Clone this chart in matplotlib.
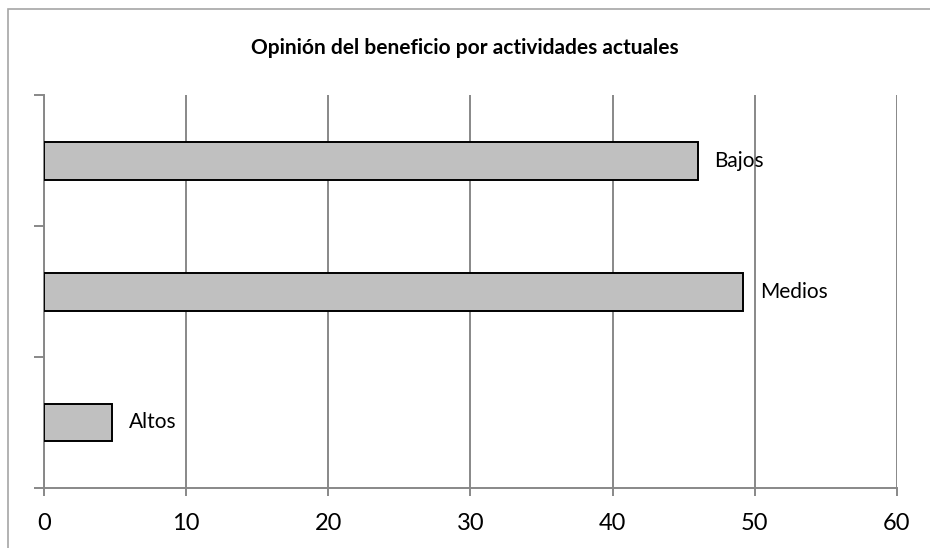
import matplotlib.pyplot as plt
from matplotlib.patches import Rectangle

# Answers per category (percent)
categorias = ["Altos", "Medios", "Bajos"]
valores = [4.8, 49.2, 46.0]
ticks_x = [0, 10, 20, 30, 40, 50, 60]

plt.rcParams['font.family'] = ['Lato', 'DejaVu Sans']

fig = plt.figure(figsize=(9.3, 5.48), dpi=100)
ax = fig.add_axes([0.0473, 0.1095, 0.9172, 0.7171])

# outer chart border (left and top edges visible)
fig.patches.append(Rectangle((8 / 930, -0.2), 1.5, 1.2 - 9 / 548,
                             transform=fig.transFigure, fill=False,
                             edgecolor='#a6a6a6', linewidth=1.2))

pos = list(range(len(categorias)))
ax.barh(pos, valores, height=0.29, color='#c0c0c0', edgecolor='black',
        linewidth=1.4, zorder=3)

for p, v, nombre in zip(pos, valores, categorias):
    ax.annotate(nombre, (v, p), xytext=(12, 0), textcoords='offset points',
                va='center', ha='left', fontsize=15, color='black', zorder=4)

ax.set_xlim(0, 60)
ax.set_ylim(-0.5, len(categorias) - 0.5)
ax.set_xticks(ticks_x)
ax.set_xticklabels([str(t) for t in ticks_x], fontsize=17)
ax.set_yticks([-0.5, 0.5, 1.5, 2.5])
ax.set_yticklabels([])
ax.tick_params(axis='x', direction='out', length=6, width=1.4,
               color='#888888', pad=12)
ax.tick_params(axis='y', direction='out', length=7, width=1.4,
               color='#888888')

ax.grid(axis='x', color='#888888', linewidth=1.4, zorder=0)
ax.set_axisbelow(True)
for s in ['top', 'right']:
    ax.spines[s].set_visible(False)
for s in ['left', 'bottom']:
    ax.spines[s].set_color('#888888')
    ax.spines[s].set_linewidth(1.4)

fig.text(0.5, 1 - 48 / 548, "Opinión del beneficio por actividades actuales",
         ha='center', va='center', fontsize=15, fontweight='bold')

fig.savefig("out.png", dpi=100)
